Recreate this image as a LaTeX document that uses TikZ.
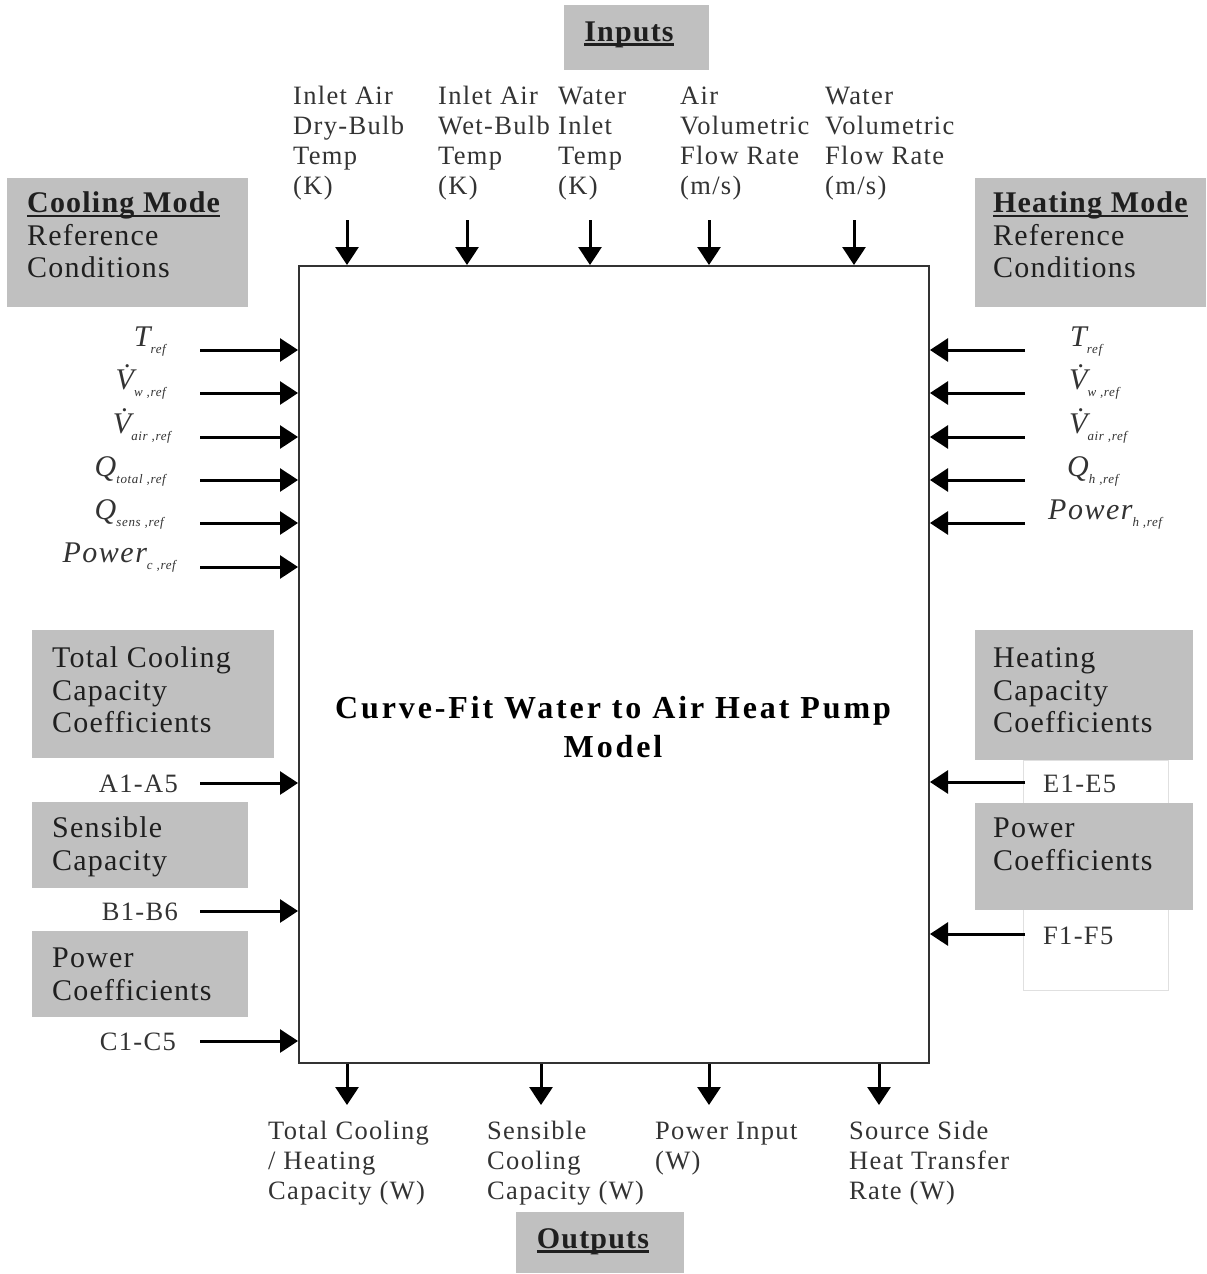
\documentclass[tikz,border=0pt]{standalone}
\usepackage{fontspec}
\setmainfont{Liberation Serif}
\usetikzlibrary{arrows.meta}
\definecolor{boxgray}{HTML}{C0C0C0}
\definecolor{txtgray}{HTML}{333333}
\definecolor{framegray}{HTML}{333333}
\newfontfamily\lblf{Liberation Serif}[LetterSpace=5]
\newfontfamily\bxf{Liberation Serif}[LetterSpace=4]
\newfontfamily\ttlf{Liberation Serif}[LetterSpace=9]
\newcommand\hul[1]{\setbox0\hbox{#1}\rlap{\rule[-4.5pt]{\wd0}{2.5pt}}\box0}
\newcommand\sbs[1]{\raisebox{-7pt}{\fontsize{13}{13}\selectfont #1}}
\newcommand\Vd{V^^^^0307}
\begin{document}
\begin{tikzpicture}[x=1pt,y=-1pt,
  graybox/.style={fill=boxgray, draw=none, inner sep=0pt, outer sep=0pt, anchor=north west},
  boxtxt/.style={anchor=north west, inner sep=0pt, align=left, text=black!88,
    font=\bxf\fontsize{30}{32.5}\selectfont},
  headtxt/.style={anchor=base, inner sep=0pt, text=black!88,
    font=\bxf\fontsize{30}{32.5}\selectfont},
  lbltxt/.style={anchor=north west, inner sep=0pt, align=left, text=txtgray,
    font=\lblf\fontsize{26.5}{30}\selectfont},
  coeftxt/.style={inner sep=0pt, text=txtgray, font=\lblf\fontsize{26.5}{30}\selectfont},
  mathlbl/.style={inner sep=0pt, text=txtgray, font=\lblf\itshape\fontsize{30}{30}\selectfont},
  arr/.style={line width=3pt, draw=black, -{Triangle[length=18pt,width=23pt]}},
  mainbox/.style={draw=framegray, line width=2pt, fill=white, inner sep=0pt, anchor=north west}
]
\useasboundingbox (0,0) rectangle (1207,1274);
\fill[white] (0,0) rectangle (1207,1274);

% main model box
\node[mainbox, minimum width=630pt, minimum height=797pt] (model) at (298,265) {};
\node[anchor=north, inner sep=0pt, align=center, text=black,
  font=\ttlf\bfseries\fontsize{32}{39}\selectfont] (title) at (613,690.7)
  {\strut Curve-Fit Water to Air Heat Pump\\Model};

% thin white box behind right coefficient boxes
\node[draw=black!12, line width=0.8pt, fill=white, inner sep=0pt, anchor=north west,
  minimum width=145pt, minimum height=230pt] (rwhite) at (1023,760) {};

% gray boxes
\node[graybox, minimum width=145pt, minimum height=65pt] (inbox) at (564,5) {};
\node[headtxt] (intxt) at (629,41) {\hul{\bfseries Inputs}};
\node[graybox, minimum width=168pt, minimum height=61pt] (outbox) at (516,1212) {};
\node[headtxt] (outtxt) at (593,1248) {\hul{\bfseries Outputs}};

\node[graybox, minimum width=241pt, minimum height=129pt] (coolbox) at (7,178) {};
\node[boxtxt] (cooltxt) at (27,190) {\strut\hul{\bfseries Cooling Mode}\\Reference\\Conditions};
\node[graybox, minimum width=231pt, minimum height=129pt] (heatbox) at (975,178) {};
\node[boxtxt] (heattxt) at (993,190) {\strut\hul{\bfseries Heating Mode}\\Reference\\Conditions};

\node[graybox, minimum width=242pt, minimum height=128pt] (tcbox) at (32,630) {};
\node[boxtxt] (tctxt) at (52,645) {\strut Total Cooling\\Capacity\\Coefficients};
\node[graybox, minimum width=216pt, minimum height=86pt] (sbox) at (32,802) {};
\node[boxtxt] (stxt) at (52,815) {\strut Sensible\\Capacity};
\node[graybox, minimum width=216pt, minimum height=86pt] (pcbox) at (32,931) {};
\node[boxtxt] (pctxt) at (52,945) {\strut Power\\Coefficients};

\node[graybox, minimum width=218pt, minimum height=130pt] (hcbox) at (975,630) {};
\node[boxtxt] (hctxt) at (993,645) {\strut Heating\\Capacity\\Coefficients};
\node[graybox, minimum width=218pt, minimum height=107pt] (phbox) at (975,803) {};
\node[boxtxt] (phtxt) at (993,815) {\strut Power\\Coefficients};

% top inputs
\node[lbltxt] (in1) at (293,83) {\strut Inlet Air\\Dry-Bulb\\Temp\\(K)};
\node[lbltxt] (in2) at (438,83) {\strut Inlet Air\\Wet-Bulb\\Temp\\(K)};
\node[lbltxt] (in3) at (558,83) {\strut Water\\Inlet\\Temp\\(K)};
\node[lbltxt] (in4) at (680,83) {\strut Air\\Volumetric\\Flow Rate\\(m/s)};
\node[lbltxt] (in5) at (825,83) {\strut Water\\Volumetric\\Flow Rate\\(m/s)};
\foreach \n/\x in {1/347,2/467,3/590,4/709,5/854}{
  \coordinate (ti\n) at (\x,220);
  \draw[arr] (ti\n) -- (ti\n |- model.north);
}

% bottom outputs
\node[lbltxt] (out1) at (268,1118) {\strut Total Cooling\\/ Heating\\Capacity (W)};
\node[lbltxt] (out2) at (487,1118) {\strut Sensible\\Cooling\\Capacity (W)};
\node[lbltxt] (out3) at (655,1118) {\strut Power Input\\(W)};
\node[lbltxt] (out4) at (849,1118) {\strut Source Side\\Heat Transfer\\Rate (W)};
\foreach \n/\x in {1/347,2/541,3/709,4/879}{
  \coordinate (bo\n) at (\x,1105);
  \draw[arr] (bo\n |- model.south) -- (bo\n);
}

% left reference conditions
\node[mathlbl, anchor=base east] (lT) at (166,346) {T\sbs{ref}};
\node[mathlbl, anchor=base east] (lVw) at (166,389) {\Vd\sbs{w ,ref}};
\node[mathlbl, anchor=base east] (lVa) at (171,433) {\Vd\sbs{air ,ref}};
\node[mathlbl, anchor=base east] (lQt) at (166,476) {Q\sbs{total ,ref}};
\node[mathlbl, anchor=base east] (lQs) at (164,519) {Q\sbs{sens ,ref}};
\node[mathlbl, anchor=base east] (lP) at (176,562) {Power\sbs{c ,ref}};
\foreach \n/\y in {1/350,2/393,3/437,4/480,5/523,6/567}{
  \coordinate (la\n) at (200,\y);
  \draw[arr] (la\n) -- (la\n -| model.west);
}

% right reference conditions
\node[mathlbl, anchor=base west] (rT) at (1070,346) {T\sbs{ref}};
\node[mathlbl, anchor=base west] (rVw) at (1069,389) {\Vd\sbs{w ,ref}};
\node[mathlbl, anchor=base west] (rVa) at (1069,433) {\Vd\sbs{air ,ref}};
\node[mathlbl, anchor=base west] (rQh) at (1067,476) {Q\sbs{h ,ref}};
\node[mathlbl, anchor=base west] (rP) at (1048,519) {Power\sbs{h ,ref}};
\foreach \n/\y in {1/350,2/393,3/437,4/480,5/523}{
  \coordinate (ra\n) at (1025,\y);
  \draw[arr] (ra\n) -- (ra\n -| model.east);
}

% coefficients left
\node[coeftxt, anchor=base east] (ca) at (178,792) {A1-A5};
\node[coeftxt, anchor=base east] (cb) at (178,920) {B1-B6};
\node[coeftxt, anchor=base east] (cc) at (176,1050) {C1-C5};
\foreach \n/\y in {a/783,b/911,c/1041}{
  \coordinate (lc\n) at (200,\y);
  \draw[arr] (lc\n) -- (lc\n -| model.west);
}

% coefficients right
\node[coeftxt, anchor=base west] (ce) at (1043,792) {E1-E5};
\node[coeftxt, anchor=base west] (cf) at (1043,944) {F1-F5};
\foreach \n/\y in {e/782,f/934}{
  \coordinate (rc\n) at (1025,\y);
  \draw[arr] (rc\n) -- (rc\n -| model.east);
}
\end{tikzpicture}
\end{document}
